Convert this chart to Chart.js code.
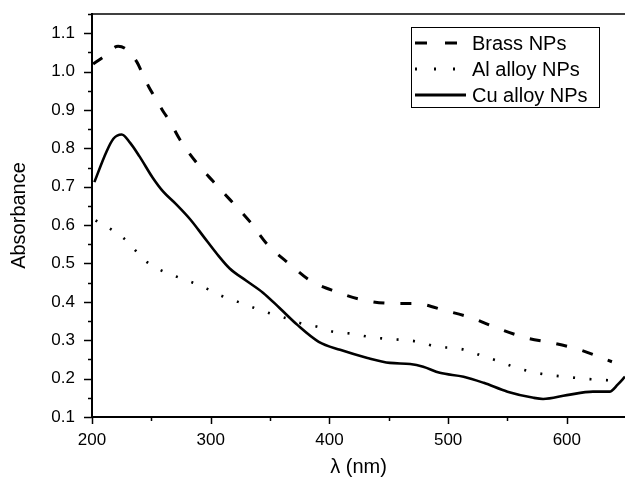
<!DOCTYPE html>
<html>
<head>
<meta charset="utf-8">
<script src="https://cdn.jsdelivr.net/npm/chart.js@4.4.1/dist/chart.umd.min.js"></script>
<style>
  html, body { margin: 0; padding: 0; background: #fff; overflow: hidden; }
  #wrap { width: 625px; height: 480px; }
</style>
</head>
<body>
<div id="wrap"><canvas id="grafico" width="625" height="480"></canvas></div>
<script>
const brassX = [201, 209, 222, 229, 238, 242, 248, 253, 260, 265, 274, 288, 302, 316, 333, 347, 367, 384, 406, 428, 453, 472, 499, 518, 541, 566, 588, 611, 638];
const brassY = [1.02, 1.037, 1.066, 1.058, 1.024, 0.998, 0.959, 0.933, 0.896, 0.873, 0.823, 0.763, 0.714, 0.667, 0.609, 0.552, 0.497, 0.455, 0.426, 0.405, 0.396, 0.396, 0.376, 0.36, 0.332, 0.306, 0.293, 0.275, 0.244];

const alX = [203, 214, 227, 236, 245, 257, 271, 285, 297, 309, 323, 337, 351, 363, 375, 390, 403, 419, 433, 447, 461, 475, 490, 504, 514, 528, 542, 556, 571, 584, 598, 614, 628, 641];
const alY = [0.612, 0.593, 0.565, 0.536, 0.507, 0.484, 0.466, 0.45, 0.434, 0.416, 0.40, 0.384, 0.369, 0.358, 0.345, 0.335, 0.322, 0.317, 0.309, 0.304, 0.301, 0.296, 0.283, 0.28, 0.275, 0.26, 0.246, 0.23, 0.217, 0.21, 0.205, 0.20, 0.197, 0.195];

const cuX = [202, 212, 218, 225, 232, 240, 251, 260, 271, 283, 294, 305, 316, 330, 344, 358, 373, 391, 409, 432, 451, 468, 479, 493, 513, 530, 550, 572, 580, 600, 622, 636, 643, 649];
const cuY = [0.712, 0.79, 0.825, 0.836, 0.815, 0.779, 0.724, 0.687, 0.654, 0.614, 0.57, 0.526, 0.487, 0.455, 0.424, 0.384, 0.34, 0.296, 0.275, 0.254, 0.241, 0.238, 0.231, 0.215, 0.205, 0.189, 0.166, 0.15, 0.147, 0.157, 0.166, 0.166, 0.185, 0.205];

const nomes = ['Brass NPs', 'Al alloy NPs', 'Cu alloy NPs'];
const xTicks = [200, 300, 400, 500, 600];
const yTicks = [0.1, 0.2, 0.3, 0.4, 0.5, 0.6, 0.7, 0.8, 0.9, 1.0, 1.1];

function pontos(xs, ys) {
    return xs.map(function (x, i) { return { x: x, y: ys[i] }; });
}

const fonte = 'Liberation Sans, Arial, sans-serif';

// tracos dos eixos (maiores e menores) + linha de cima
const tracos = {
    id: 'tracos',
    afterDraw(chart) {
        const c = chart.ctx;
        const a = chart.chartArea;
        const sx = chart.scales.x, sy = chart.scales.y;
        c.save();
        c.strokeStyle = '#000';
        c.lineWidth = 1.5;
        for (let v = 200; v <= 649; v += 50) {
            const px = Math.round(sx.getPixelForValue(v)) + 0.5;
            const len = (v % 100 === 0) ? 7 : 4;
            c.beginPath();
            c.moveTo(px, a.bottom);
            c.lineTo(px, a.bottom + len);
            c.stroke();
        }
        for (let k = 2; k <= 23; k++) {
            const v = k * 0.05;
            const py = Math.round(sy.getPixelForValue(v)) + 0.5;
            const len = (k % 2 === 0) ? 8 : 4;
            c.beginPath();
            c.moveTo(a.left, py);
            c.lineTo(a.left - len, py);
            c.stroke();
        }
        c.beginPath();
        c.moveTo(a.left, a.top);
        c.lineTo(a.right, a.top);
        c.stroke();
        c.restore();
    }
};

// legenda dentro do grafico
const legenda = {
    id: 'legenda',
    afterDraw(chart) {
        const c = chart.ctx;
        c.save();
        c.strokeStyle = '#000';
        c.lineWidth = 1;
        c.strokeRect(411.5, 27.5, 188, 80);
        c.font = '20px ' + fonte;
        c.fillStyle = '#000';
        c.textBaseline = 'middle';
        const linhas = [43, 69, 95];
        chart.data.datasets.forEach(function (ds, i) {
            const y = linhas[i];
            c.lineWidth = 3;
            c.lineCap = 'butt';
            if (i === 0) c.setLineDash([12, 18]);
            else if (i === 1) c.setLineDash([2, 17]);
            else c.setLineDash([]);
            c.beginPath();
            c.moveTo(415, y);
            c.lineTo(466, y);
            c.stroke();
            c.setLineDash([]);
            c.fillText(ds.label, 472, y + 1);
        });
        c.restore();
    }
};

new Chart(document.getElementById('grafico'), {
    type: 'line',
    data: {
        datasets: [{
            label: nomes[0],
            data: pontos(brassX, brassY),
            borderColor: '#000',
            borderWidth: 3,
            borderDash: [11, 16],
            pointRadius: 0,
            cubicInterpolationMode: 'monotone'
        }, {
            label: nomes[1],
            data: pontos(alX, alY),
            borderColor: '#000',
            borderWidth: 2.6,
            borderDash: [2, 14.5],
            pointRadius: 0,
            cubicInterpolationMode: 'monotone'
        }, {
            label: nomes[2],
            data: pontos(cuX, cuY),
            borderColor: '#000',
            borderWidth: 2.6,
            pointRadius: 0,
            cubicInterpolationMode: 'monotone'
        }]
    },
    options: {
        responsive: false,
        animation: false,
        layout: { padding: { top: 14, right: 0, left: 0, bottom: 0 } },
        plugins: {
            legend: { display: false },
            tooltip: { enabled: false }
        },
        scales: {
            x: {
                type: 'linear',
                min: 200,
                max: 649,
                afterFit: function (s) { s.height = 63; s.paddingLeft = 0; s.paddingRight = 0; },
                afterBuildTicks: function (s) { s.ticks = xTicks.map(function (v) { return { value: v }; }); },
                grid: { display: true, drawOnChartArea: false, drawTicks: false },
                border: { display: true, color: '#000', width: 2 },
                ticks: {
                    color: '#000',
                    padding: 13,
                    maxRotation: 0,
                    font: { family: fonte, size: 17 }
                },
                title: {
                    display: true,
                    text: 'λ (nm)',
                    color: '#000',
                    font: { family: fonte, size: 20 },
                    padding: { top: 0, bottom: 1 }
                }
            },
            y: {
                min: 0.1,
                max: 1.15,
                afterFit: function (s) { s.width = 92; s.paddingTop = 0; s.paddingBottom = 0; },
                afterBuildTicks: function (s) { s.ticks = yTicks.map(function (v) { return { value: v }; }); },
                grid: { display: true, drawOnChartArea: false, drawTicks: false },
                border: { display: true, color: '#000', width: 2 },
                ticks: {
                    color: '#000',
                    padding: 17,
                    font: { family: fonte, size: 17 },
                    callback: function (v) { return v.toFixed(1); }
                },
                title: {
                    display: true,
                    text: 'Absorbance',
                    color: '#000',
                    font: { family: fonte, size: 20 },
                    padding: { top: 7, bottom: 0 }
                }
            }
        }
    },
    plugins: [tracos, legenda]
});
</script>
</body>
</html>
